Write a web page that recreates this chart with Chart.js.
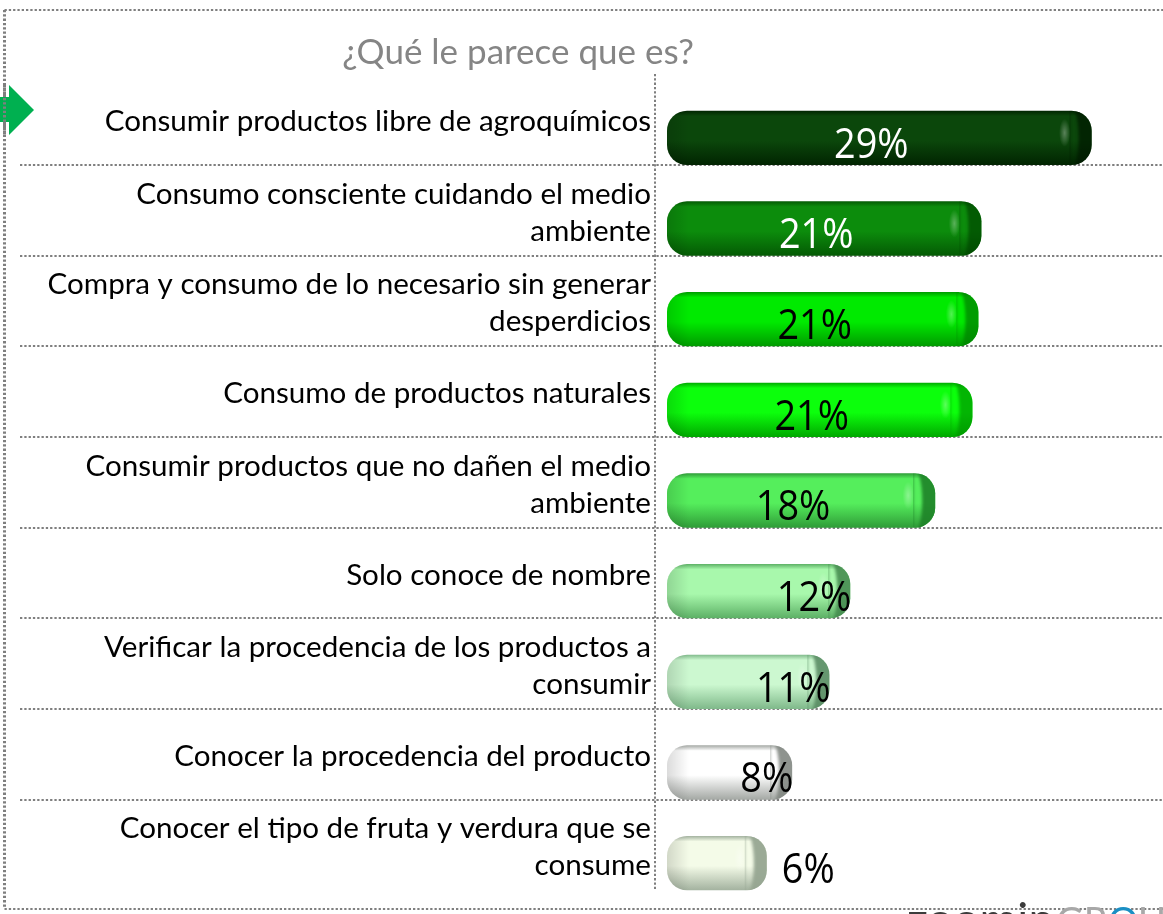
<!DOCTYPE html>
<html><head><meta charset="utf-8">
<style>html,body{margin:0;padding:0;background:#fff;overflow:hidden}#w{position:relative;width:1163px;height:914px;overflow:hidden}canvas{display:block}</style>
<script src="https://cdn.jsdelivr.net/npm/chart.js@4"></script></head>
<body><div id="w"><canvas id="c" width="1163" height="943"></canvas></div>
<script>
const chartTitle = "¿Qué le parece que es?";
const categories = [
  ["Consumir productos libre de agroquímicos"],
  ["Consumo consciente cuidando el medio","ambiente"],
  ["Compra y consumo de lo necesario sin generar","desperdicios"],
  ["Consumo de productos naturales"],
  ["Consumir productos que no dañen el medio","ambiente"],
  ["Solo conoce de nombre"],
  ["Verificar la procedencia de los productos a","consumir"],
  ["Conocer la procedencia del producto"],
  ["Conocer el tipo de fruta y verdura que se","consume"]
];
const barValues = [28.5, 21.1, 20.9, 20.5, 18.0, 12.3, 10.9, 8.4, 6.7];
const valueLabels = ["29%","21%","21%","21%","18%","12%","11%","8%","6%"];
const edgeColors = ["#012401","#045a04","#009a00","#00a800","#2f9c38","#5cb065","#7fb98a","#a4a8a4","#a3b29f"];
const midColors  = ["#0b470b","#0c8c0c","#00ea00","#0cff0c","#55ee5c","#a8f8ac","#ccf8d0","#ffffff","#f4fbe8"];
const capColors  = ["rgba(0,25,0,.75)","rgba(0,70,0,.7)","rgba(0,130,0,.75)","rgba(0,150,0,.7)","rgba(30,130,40,.9)","rgba(70,140,80,.9)","rgba(90,140,100,.9)","rgba(130,135,130,.9)","rgba(150,165,145,.95)"];
const textColors = ["#fff","#fff","#000","#000","#000","#000","#000","#000","#000"];

const FONT = 'Lato';
const VALUE_FONT = '"Open Sans"';
const DOT = "#7f7f7f";

function dotted(ctx,x1,y1,x2,y2,w){
  ctx.save();ctx.strokeStyle=DOT;ctx.lineWidth=w||2;ctx.setLineDash([2.3,2]);
  ctx.beginPath();ctx.moveTo(x1,y1);ctx.lineTo(x2,y2);ctx.stroke();ctx.restore();
}
function rr(ctx,x,y,w,h,r){ctx.beginPath();ctx.roundRect(x,y,w,h,r);}

const decor = {
  id:"decor",
  beforeDatasetsDraw(chart){
    const ctx=chart.ctx, meta=chart.getDatasetMeta(0);
    ctx.save();
    dotted(ctx,4.5,10,4.5,908,3);
    dotted(ctx,4.5,10,1163,10,2);
    dotted(ctx,4.5,909,1163,909,2);
    ctx.fillStyle="#00b050";
    ctx.beginPath();ctx.moveTo(0,97);ctx.lineTo(9,97);ctx.lineTo(9,85);ctx.lineTo(34,110);ctx.lineTo(9,135);ctx.lineTo(9,122);ctx.lineTo(0,122);ctx.closePath();ctx.fill();
    dotted(ctx,4.5,85,4.5,135,3);
    ctx.fillStyle="#858585";ctx.font='35px '+FONT;ctx.textAlign="center";ctx.textBaseline="alphabetic";
    ctx.fillText(chartTitle,518,64);
    meta.data.forEach((b,i)=>{ if(i<meta.data.length-1){const y=Math.round(b.y+b.height/2); dotted(ctx,20,y,1163,y,2);} });
    const ax=chart.chartArea.left-12;
    dotted(ctx,ax,74,ax,891,2);
    ctx.restore();
  },
  afterDatasetsDraw(chart){
    const ctx=chart.ctx, meta=chart.getDatasetMeta(0);
    meta.data.forEach((b,i)=>{
      const x0=b.base,x1=b.x,top=b.y-b.height/2,h=b.height,w=x1-x0;
      ctx.save();
      rr(ctx,x0,top,w,h,20);ctx.clip();
      let g=ctx.createLinearGradient(x0,0,x0+22,0);
      g.addColorStop(0,"rgba(0,0,0,.14)");g.addColorStop(1,"rgba(0,0,0,0)");
      ctx.fillStyle=g;ctx.fillRect(x0,top,24,h);
      // right cap: crescent at the end of the bar
      ctx.save();
      ctx.beginPath();ctx.rect(x1-22,top,24,h);ctx.clip();
      ctx.filter="blur(1.5px)";
      ctx.fillStyle=capColors[i];
      ctx.beginPath();
      ctx.rect(x1-22,top-4,28,h+8);
      ctx.ellipse(x1-22,b.y,9,h/2+6,0,0,Math.PI*2);
      ctx.fill("evenodd");
      ctx.restore();
      ctx.translate(x1-27,b.y-5);ctx.scale(.4,1);
      g=ctx.createRadialGradient(0,0,0,0,0,14);
      g.addColorStop(0,"rgba(255,255,255,.32)");g.addColorStop(1,"rgba(255,255,255,0)");
      ctx.fillStyle=g;ctx.beginPath();ctx.arc(0,0,14,0,Math.PI*2);ctx.fill();
      ctx.restore();
    });
    ctx.save();ctx.font='42px '+VALUE_FONT;ctx.textBaseline="middle";
    meta.data.forEach((b,i)=>{
      const v=barValues[i];let x;
      if(v>=15){ctx.textAlign="center";x=(b.base+b.x)/2-8;}
      else if(v>=8){ctx.textAlign="right";x=b.x+1;}
      else{ctx.textAlign="left";x=b.x+15;}
      ctx.fillStyle=textColors[i];
      ctx.save();ctx.translate(x,b.y+8);ctx.scale(.9,1);
      ctx.fillText(valueLabels[i],0,0);
      ctx.restore();
    });
    ctx.restore();
    ctx.save();ctx.textBaseline="alphabetic";ctx.textAlign="left";
    ctx.font='46px Lato';ctx.fillStyle="#3c3c3c";ctx.fillText("zoomin",907,936);
    ctx.font='38px Lato';ctx.fillStyle="#a8a8a8";ctx.fillText("GR",1056,935);
    ctx.fillStyle="#1b8fc4";ctx.fillText("O",1108,935);
    ctx.fillStyle="#a8a8a8";ctx.fillText("UP",1138,935);
    ctx.restore();
  }
};

new Chart(document.getElementById("c"),{
  type:"bar",
  data:{labels:categories,datasets:[{
    data:barValues,
    categoryPercentage:1,barPercentage:.6,borderWidth:0,borderSkipped:false,
    borderRadius:20,
    backgroundColor(c){
      const chart=c.chart,i=c.dataIndex;
      const ys=chart.scales.y; if(!ys||i===undefined) return midColors[0];
      const cy=ys.getPixelForValue(i);
      if(!Number.isFinite(cy)) return midColors[i];
      const t=cy-27.2,bt=cy+27.2;
      const g=chart.ctx.createLinearGradient(0,t,0,bt);
      g.addColorStop(0,edgeColors[i]);g.addColorStop(.1,midColors[i]);
      g.addColorStop(.55,midColors[i]);g.addColorStop(1,edgeColors[i]);
      return g;
    }
  }]},
  options:{
    indexAxis:"y",responsive:false,animation:false,
    layout:{autoPadding:false,padding:{top:92.5,bottom:7,left:0,right:0}},
    plugins:{legend:{display:false},tooltip:{enabled:false}},
    scales:{
      x:{display:false,min:0,max:33.29,grid:{display:false}},
      y:{
        grid:{display:false,drawTicks:false},border:{display:false},
        afterFit(s){s.width=667;},
        ticks:{autoSkip:false,color:"#000",padding:16,labelOffset:-16,
          font:{family:FONT,size:29.6,lineHeight:1.25}}
      }
    }
  },
  plugins:[decor]
});
</script></body></html>
